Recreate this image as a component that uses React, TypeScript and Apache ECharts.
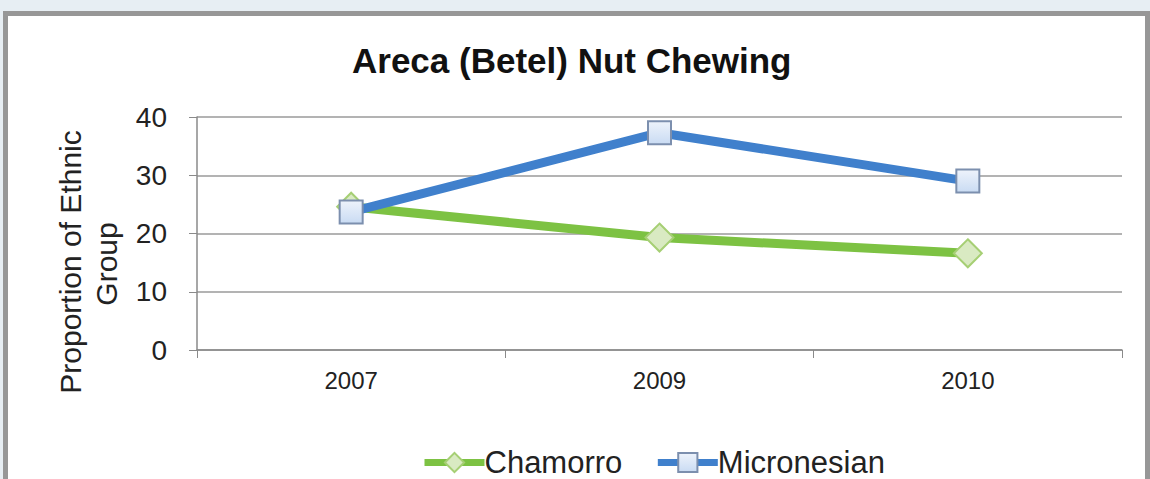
import React, { useEffect, useRef } from "react";
import * as echarts from "echarts";

const years = ["2007", "2009", "2010"];
const chamorro = [24.6, 19.3, 16.6];
const micronesian = [23.7, 37.3, 29.0];
const titleText = "Areca (Betel) Nut Chewing";
const yAxisTitle = ["Proportion of Ethnic", "Group"];

export default function App() {
  const ref = useRef<HTMLDivElement>(null);
  useEffect(() => {
    if (!ref.current) return;
    const chart = echarts.init(ref.current, null, { renderer: "svg" });
    const font = "Liberation Sans, Arial, sans-serif";
    chart.setOption({
      animation: false,
      title: {
        text: titleText,
        left: 347,
        top: 38,
        textStyle: { fontFamily: font, fontSize: 35, fontWeight: "bold", color: "#111" },
      },
      legend: {
        left: 416,
        top: 442,
        itemWidth: 60,
        itemHeight: 24,
        itemGap: 32,
        lineStyle: { width: 7 },
        textStyle: { fontFamily: font, fontSize: 31, color: "#222", padding: [0, 0, 0, -5] },
        data: ["Chamorro", "Micronesian"],
      },
      grid: { left: 197, right: 28, top: 117, bottom: 129 },
      xAxis: {
        type: "category",
        data: years,
        boundaryGap: true,
        axisLine: { lineStyle: { color: "#8a8a8a", width: 1.5 } },
        axisTick: { show: true, length: 8, lineStyle: { color: "#8a8a8a" } },
        axisLabel: { margin: 18, fontFamily: font, fontSize: 24, color: "#222" },
      },
      yAxis: {
        type: "value",
        min: 0,
        max: 40,
        interval: 10,
        axisLine: { show: true, lineStyle: { color: "#8a8a8a", width: 1.5 } },
        axisTick: { show: true, length: 8, lineStyle: { color: "#8a8a8a" } },
        axisLabel: { margin: 30, fontFamily: font, fontSize: 28, color: "#222" },
        splitLine: { lineStyle: { color: "#9a9a9a", width: 1.5 } },
      },
      graphic: [
        {
          type: "text",
          x: 70,
          y: 262,
          rotation: Math.PI / 2,
          style: {
            text: yAxisTitle[0],
            fontFamily: font,
            fontSize: 30,
            fill: "#222",
            textAlign: "center",
            textVerticalAlign: "middle",
          },
        },
        {
          type: "text",
          x: 106,
          y: 264,
          rotation: Math.PI / 2,
          style: {
            text: yAxisTitle[1],
            fontFamily: font,
            fontSize: 30,
            fill: "#222",
            textAlign: "center",
            textVerticalAlign: "middle",
          },
        },
      ],
      series: [
        {
          name: "Chamorro",
          type: "line",
          data: chamorro,
          symbol: "diamond",
          symbolSize: 28,
          lineStyle: { color: "#7dc243", width: 9 },
          itemStyle: { color: "#d9eac2", borderColor: "#a6cf74", borderWidth: 2 },
          z: 2,
        },
        {
          name: "Micronesian",
          type: "line",
          data: micronesian,
          symbol: "rect",
          symbolSize: 23,
          lineStyle: { color: "#4080cc", width: 9 },
          itemStyle: {
            color: new echarts.graphic.LinearGradient(0, 0, 0, 1, [
              { offset: 0, color: "#eef3fb" },
              { offset: 1, color: "#c9dbf3" },
            ]),
            borderColor: "#7c8fae",
            borderWidth: 2,
          },
          z: 3,
        },
      ],
    });
    return () => chart.dispose();
  }, []);

  return (
    <div
      style={{
        position: "fixed",
        left: 0,
        top: 0,
        width: 1150,
        height: 479,
        background: "#e7eef3",
        overflow: "hidden",
      }}
    >
      <div
        style={{
          position: "absolute",
          left: 3,
          top: 11,
          width: 1137,
          height: 480,
          borderTop: "5px solid #979797",
          borderLeft: "5px solid #979797",
          borderRight: "5px solid #979797",
          background: "#ffffff",
        }}
      />
      <div ref={ref} style={{ position: "absolute", left: 0, top: 0, width: 1150, height: 479 }} />
    </div>
  );
}
